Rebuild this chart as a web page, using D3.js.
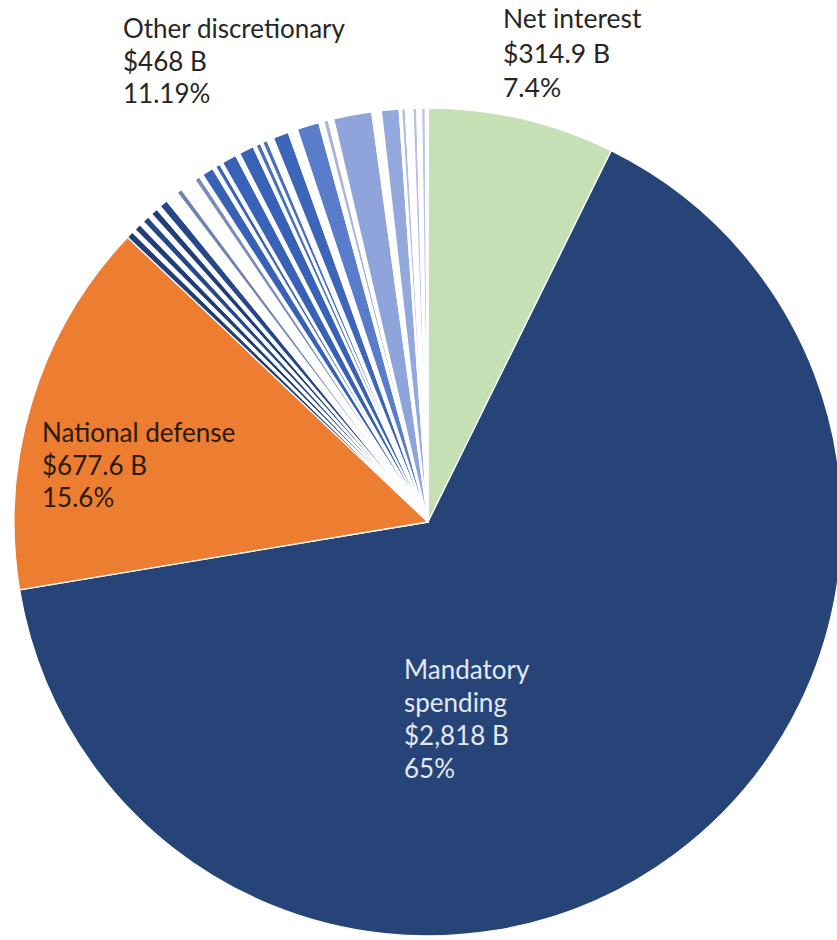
<!DOCTYPE html>
<html>
<head>
<meta charset="utf-8">
<script src="https://cdn.jsdelivr.net/npm/d3@7"></script>
<style>
  html, body { margin: 0; padding: 0; background: #ffffff; }
  svg { display: block; }
  text { font-family: Lato, "Open Sans", sans-serif; }
</style>
</head>
<body>
<svg id="chart" width="837" height="940"></svg>
<script>
// Main categories (share of pie, %), clockwise from 12 o'clock
const mainCategories = ["Net interest", "Mandatory spending", "National defense"];
const mainValues = [7.3, 65.1, 14.7];
const mainColors = ["#c5e0b4", "#264478", "#ed7d31"];

// "Other discretionary" sub-slices (share of pie, %), continuing clockwise after defense
const otherValues = [
  0.27, 0.14, 0.27, 0.17, 0.27, 0.17, 0.27, 0.17, 0.33, 0.51,
  0.21, 0.63, 0.21, 0.15, 0.45, 0.13, 0.19, 0.12, 0.58, 0.17,
  0.58, 0.12, 0.19, 0.09, 0.19, 0.26, 0.61, 0.37, 0.86, 0.20,
  0.18, 0.21, 1.49, 0.37, 0.69, 0.09, 0.15, 0.29, 0.15, 0.18,
  0.15, 0.10
];
const otherColors = [
  "#213f76", "#ffffff", "#213f76", "#ffffff", "#26478a", "#ffffff", "#213f76", "#ffffff", "#26478a", "#ffffff",
  "#7082b0", "#ffffff", "#7a8cbc", "#ffffff", "#3762b6", "#ffffff", "#3a64b8", "#ffffff", "#3762b6", "#ffffff",
  "#3762b6", "#ffffff", "#4a6fbe", "#ffffff", "#4a6fbe", "#ffffff", "#3d66b9", "#ffffff", "#5a7dcb", "#ffffff",
  "#a8b4d8", "#ffffff", "#8ea4db", "#ffffff", "#93a8dc", "#ffffff", "#b3bde0", "#ffffff", "#b8c0e2", "#ffffff",
  "#c0c6e4", "#ffffff"
];

// Label texts
const netInterestLabel = ["Net interest", "$314.9 B", "7.4%"];
const mandatoryLabel = ["Mandatory", "spending", "$2,818 B", "65%"];
const defenseLabel = ["National defense", "$677.6 B", "15.6%"];
const otherLabel = ["Other discretionary", "$468 B", "11.19%"];

const slices = mainValues.map((v, i) => ({ value: v, color: mainColors[i] }))
  .concat(otherValues.map((v, i) => ({ value: v, color: otherColors[i] })));

const svg = d3.select("#chart");
const cx = 428, cy = 522, r = 414;

const pie = d3.pie().sort(null).value(d => d.value);
const arc = d3.arc().innerRadius(0).outerRadius(r);

svg.append("g")
  .attr("transform", `translate(${cx},${cy})`)
  .selectAll("path")
  .data(pie(slices))
  .join("path")
  .attr("d", arc)
  .attr("fill", d => d.data.color)
  .attr("stroke", "#ffffff")
  .attr("stroke-width", 1.3)
  .attr("stroke-linejoin", "round");

function label(lines, x, y0, lh, color, size) {
  const t = svg.append("text")
    .attr("fill", color)
    .attr("font-size", size);
  lines.forEach((s, i) => {
    t.append("tspan").attr("x", x).attr("y", y0 + i * lh).text(s);
  });
}

label(otherLabel, 123, 38, 32.5, "#262626", 26);
label(netInterestLabel, 503, 28, 34.5, "#262626", 26.5);
label(defenseLabel, 42, 442, 32.5, "#2a1a0c", 26);
label(mandatoryLabel, 404, 679, 33, "#e4e8f0", 26);
</script>
</body>
</html>
